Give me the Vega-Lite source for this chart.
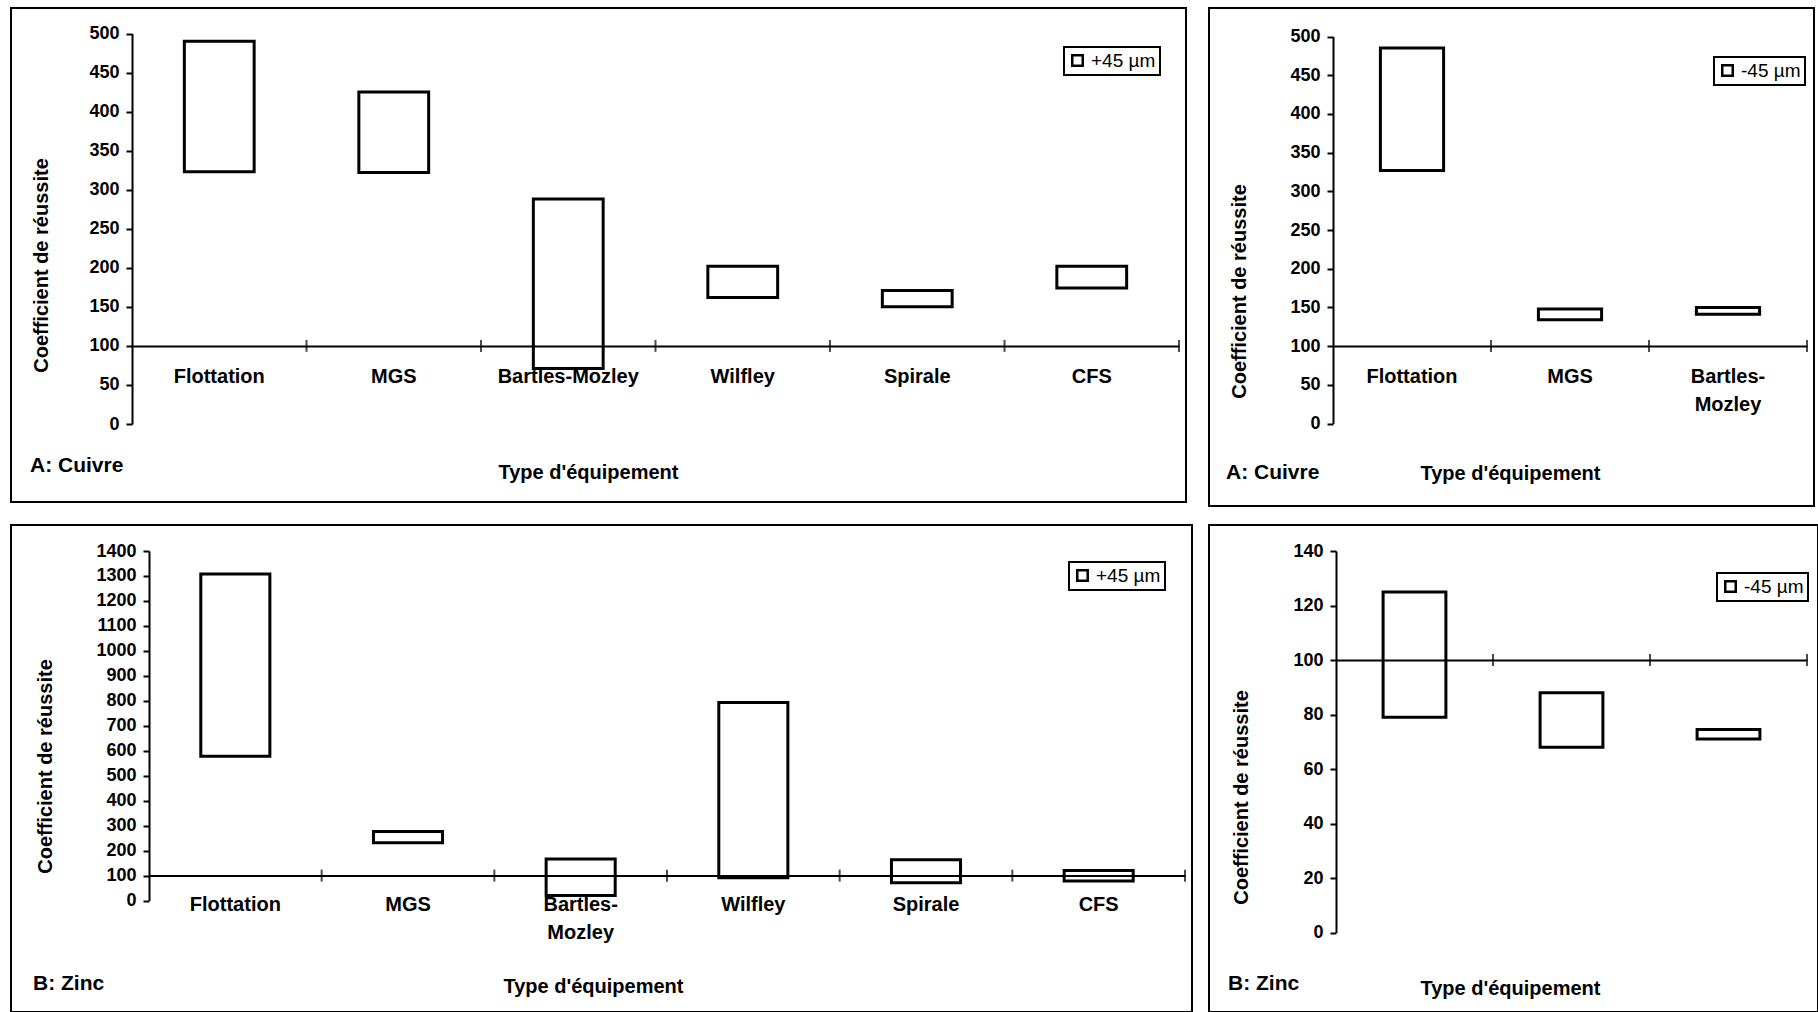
{
  "$schema": "https://vega.github.io/schema/vega-lite/v6.json",
  "padding": {"left": 10, "top": 7, "right": 0, "bottom": 0},
  "background": "white",
  "config": {
    "font": "Liberation Sans",
    "view": {"stroke": "black", "strokeWidth": 2},
    "axis": {
      "labelFont": "Liberation Sans", "labelFontSize": 20, "labelFontWeight": "bold", "labelColor": "black",
      "titleFont": "Liberation Sans", "titleFontSize": 20, "titleFontWeight": "bold", "titleColor": "black",
      "domainColor": "black", "domainWidth": 2, "tickColor": "black", "tickWidth": 2, "grid": false
    },
    "axisY": {"labelFontSize": 18, "labelOverlap": false, "format": "d", "labelPadding": 7},
    "legend": {"strokeWidth": 2},
    "title": {"font": "Liberation Sans", "fontSize": 21, "fontWeight": "bold", "color": "black"}
  },
  "datasets": {
    "a45p": [
      {"Equipement": "Flottation", "bas": 323, "haut": 490},
      {"Equipement": "MGS", "bas": 322, "haut": 425},
      {"Equipement": "Bartles-Mozley", "bas": 71, "haut": 288},
      {"Equipement": "Wilfley", "bas": 162, "haut": 202},
      {"Equipement": "Spirale", "bas": 150, "haut": 171},
      {"Equipement": "CFS", "bas": 174, "haut": 202}
    ],
    "a45m": [
      {"Equipement": "Flottation", "bas": 327, "haut": 485},
      {"Equipement": "MGS", "bas": 134, "haut": 148},
      {"Equipement": "Bartles-Mozley", "bas": 141, "haut": 150}
    ],
    "b45p": [
      {"Equipement": "Flottation", "bas": 578, "haut": 1308},
      {"Equipement": "MGS", "bas": 232, "haut": 277},
      {"Equipement": "Bartles-Mozley", "bas": 20, "haut": 167},
      {"Equipement": "Wilfley", "bas": 92, "haut": 793},
      {"Equipement": "Spirale", "bas": 71, "haut": 164},
      {"Equipement": "CFS", "bas": 78, "haut": 121}
    ],
    "b45m": [
      {"Equipement": "Flottation", "bas": 79, "haut": 125},
      {"Equipement": "MGS", "bas": 68, "haut": 88},
      {"Equipement": "Bartles-Mozley", "bas": 71, "haut": 74.5}
    ]
  },
  "resolve": {"scale": {"stroke": "independent"}, "legend": {"stroke": "independent"}},
  "spacing": 17,
  "vconcat": [
    {
      "spacing": 21,
      "resolve": {"scale": {"stroke": "independent"}, "legend": {"stroke": "independent"}},
      "hconcat": [
        {
          "width": 1175, "height": 494,
          "title": {"text": "A:  Cuivre", "orient": "bottom", "anchor": "start", "frame": "group", "offset": -36, "dx": 19, "baseline": "middle"},
          "data": {"name": "a45p"},
          "layer": [
            {
              "mark": {"type": "bar", "fill": "white", "strokeWidth": 3, "width": {"band": 0.4}},
              "encoding": {
                "x": {"field": "Equipement", "type": "nominal", "sort": null,
                  "scale": {"range": [121, 1168], "paddingInner": 0, "paddingOuter": 0},
                  "axis": {"orient": "bottom", "offset": -156, "ticks": false, "tickSize": 0, "labelPadding": 20, "labelBaseline": "top", "labelAngle": 0,
                    "title": "Type d'équipement", "titleX": 577, "titleY": 126, "titleBaseline": "middle", "titleAlign": "center", "zindex": 1}},
                "y": {"field": "bas", "type": "quantitative",
                  "scale": {"domain": [0, 500], "range": [416, 25.5], "nice": false, "zero": false},
                  "axis": {"values": [0, 50, 100, 150, 200, 250, 300, 350, 400, 450, 500], "offset": -121, "tickSize": 6, "labelOverlap": false,
                    "title": "Coefficient de réussite", "titleX": -91, "titleY": 257, "titleBaseline": "middle", "titleAlign": "center", "titleAngle": -90}},
                "y2": {"field": "haut"},
                "stroke": {"datum": "+45 µm", "type": "nominal", "scale": {"range": ["black"]},
                  "legend": {"orient": "none", "legendX": 1053, "legendY": 39, "title": null, "strokeColor": "black", "padding": 4,
                    "labelFontSize": 19, "labelFont": "Liberation Sans", "labelColor": "black", "labelOffset": 4,
                    "symbolType": "square", "symbolSize": 110, "symbolStrokeWidth": 2.5, "symbolStrokeColor": "black", "symbolFillColor": "white"}}
              }
            },
            {
              "mark": {"type": "tick", "orient": "vertical", "size": 12, "thickness": 2, "color": "black"},
              "encoding": {
                "x": {"field": "Equipement", "type": "nominal", "sort": null, "bandPosition": 1},
                "y": {"datum": 100, "type": "quantitative",
                  "axis": {"values": [0, 50, 100, 150, 200, 250, 300, 350, 400, 450, 500], "offset": -121, "tickSize": 6, "labelOverlap": false,
                    "title": "Coefficient de réussite", "titleX": -91, "titleY": 257, "titleBaseline": "middle", "titleAlign": "center", "titleAngle": -90}}
              }
            }
          ]
        },
        {
          "width": 605, "height": 498,
          "title": {"text": "A: Cuivre", "orient": "bottom", "anchor": "start", "frame": "group", "offset": -33, "dx": 17, "baseline": "middle"},
          "data": {"name": "a45m"},
          "layer": [
            {
              "mark": {"type": "bar", "fill": "white", "strokeWidth": 3, "width": {"band": 0.4}},
              "encoding": {
                "x": {"field": "Equipement", "type": "nominal", "sort": null,
                  "scale": {"range": [124, 598], "paddingInner": 0, "paddingOuter": 0},
                  "axis": {"orient": "bottom", "offset": -160, "ticks": false, "tickSize": 0, "labelPadding": 20, "labelBaseline": "top", "labelAngle": 0,
                    "labelExpr": "datum.label == 'Bartles-Mozley' ? ['Bartles-', 'Mozley'] : datum.label", "labelLineHeight": 28,
                    "title": "Type d'équipement", "titleX": 301, "titleY": 127, "titleBaseline": "middle", "titleAlign": "center", "zindex": 1}},
                "y": {"field": "bas", "type": "quantitative",
                  "scale": {"domain": [0, 500], "range": [415.5, 28.5], "nice": false, "zero": false},
                  "axis": {"values": [0, 50, 100, 150, 200, 250, 300, 350, 400, 450, 500], "offset": -124, "tickSize": 6, "labelOverlap": false,
                    "title": "Coefficient de réussite", "titleX": -94, "titleY": 283, "titleBaseline": "middle", "titleAlign": "center", "titleAngle": -90}},
                "y2": {"field": "haut"},
                "stroke": {"datum": "-45 µm", "type": "nominal", "scale": {"range": ["black"]},
                  "legend": {"orient": "none", "legendX": 505, "legendY": 49, "title": null, "strokeColor": "black", "padding": 4,
                    "labelFontSize": 19, "labelFont": "Liberation Sans", "labelColor": "black", "labelOffset": 4,
                    "symbolType": "square", "symbolSize": 110, "symbolStrokeWidth": 2.5, "symbolStrokeColor": "black", "symbolFillColor": "white"}}
              }
            },
            {
              "mark": {"type": "tick", "orient": "vertical", "size": 12, "thickness": 2, "color": "black"},
              "encoding": {
                "x": {"field": "Equipement", "type": "nominal", "sort": null, "bandPosition": 1},
                "y": {"datum": 100, "type": "quantitative",
                  "axis": {"values": [0, 50, 100, 150, 200, 250, 300, 350, 400, 450, 500], "offset": -124, "tickSize": 6, "labelOverlap": false,
                    "title": "Coefficient de réussite", "titleX": -94, "titleY": 283, "titleBaseline": "middle", "titleAlign": "center", "titleAngle": -90}}
              }
            }
          ]
        }
      ]
    },
    {
      "spacing": 15,
      "resolve": {"scale": {"stroke": "independent"}, "legend": {"stroke": "independent"}},
      "hconcat": [
        {
          "width": 1181, "height": 487,
          "title": {"text": "B: Zinc", "orient": "bottom", "anchor": "start", "frame": "group", "offset": -28, "dx": 22, "baseline": "middle"},
          "data": {"name": "b45p"},
          "layer": [
            {
              "mark": {"type": "bar", "fill": "white", "strokeWidth": 3, "width": {"band": 0.4}},
              "encoding": {
                "x": {"field": "Equipement", "type": "nominal", "sort": null,
                  "scale": {"range": [138, 1174], "paddingInner": 0, "paddingOuter": 0},
                  "axis": {"orient": "bottom", "offset": -136.4, "ticks": false, "tickSize": 0, "labelPadding": 19, "labelBaseline": "top", "labelAngle": 0,
                    "labelExpr": "datum.label == 'Bartles-Mozley' ? ['Bartles-', 'Mozley'] : datum.label", "labelLineHeight": 28,
                    "title": "Type d'équipement", "titleX": 582, "titleY": 111, "titleBaseline": "middle", "titleAlign": "center", "zindex": 1}},
                "y": {"field": "bas", "type": "quantitative",
                  "scale": {"domain": [0, 1400], "range": [375.6, 26], "nice": false, "zero": false},
                  "axis": {"values": [0, 100, 200, 300, 400, 500, 600, 700, 800, 900, 1000, 1100, 1200, 1300, 1400], "offset": -138, "tickSize": 6, "labelOverlap": false, "labelFontSize": 18,
                    "title": "Coefficient de réussite", "titleX": -104, "titleY": 241, "titleBaseline": "middle", "titleAlign": "center", "titleAngle": -90}},
                "y2": {"field": "haut"},
                "stroke": {"datum": "+45 µm", "type": "nominal", "scale": {"range": ["black"]},
                  "legend": {"orient": "none", "legendX": 1058, "legendY": 37, "title": null, "strokeColor": "black", "padding": 4,
                    "labelFontSize": 19, "labelFont": "Liberation Sans", "labelColor": "black", "labelOffset": 4,
                    "symbolType": "square", "symbolSize": 110, "symbolStrokeWidth": 2.5, "symbolStrokeColor": "black", "symbolFillColor": "white"}}
              }
            },
            {
              "mark": {"type": "tick", "orient": "vertical", "size": 12, "thickness": 2, "color": "black"},
              "encoding": {
                "x": {"field": "Equipement", "type": "nominal", "sort": null, "bandPosition": 1},
                "y": {"datum": 100, "type": "quantitative",
                  "axis": {"values": [0, 100, 200, 300, 400, 500, 600, 700, 800, 900, 1000, 1100, 1200, 1300, 1400], "offset": -138, "tickSize": 6, "labelOverlap": false, "labelFontSize": 18,
                    "title": "Coefficient de réussite", "titleX": -104, "titleY": 241, "titleBaseline": "middle", "titleAlign": "center", "titleAngle": -90}}
              }
            }
          ]
        },
        {
          "width": 609, "height": 487,
          "title": {"text": "B: Zinc", "orient": "bottom", "anchor": "start", "frame": "group", "offset": -28, "dx": 19, "baseline": "middle"},
          "data": {"name": "b45m"},
          "layer": [
            {
              "mark": {"type": "bar", "fill": "white", "strokeWidth": 3, "width": {"band": 0.4}},
              "encoding": {
                "x": {"field": "Equipement", "type": "nominal", "sort": null,
                  "scale": {"range": [127, 598], "paddingInner": 0, "paddingOuter": 0},
                  "axis": {"orient": "bottom", "offset": -352, "ticks": false, "tickSize": 0, "labels": false,
                    "title": "Type d'équipement", "titleX": 301, "titleY": 328, "titleBaseline": "middle", "titleAlign": "center", "zindex": 1}},
                "y": {"field": "bas", "type": "quantitative",
                  "scale": {"domain": [0, 140], "range": [407.5, 26], "nice": false, "zero": false},
                  "axis": {"values": [0, 20, 40, 60, 80, 100, 120, 140], "offset": -127, "tickSize": 6, "labelOverlap": false,
                    "title": "Coefficient de réussite", "titleX": -95, "titleY": 272, "titleBaseline": "middle", "titleAlign": "center", "titleAngle": -90}},
                "y2": {"field": "haut"},
                "stroke": {"datum": "-45 µm", "type": "nominal", "scale": {"range": ["black"]},
                  "legend": {"orient": "none", "legendX": 508, "legendY": 48, "title": null, "strokeColor": "black", "padding": 4,
                    "labelFontSize": 19, "labelFont": "Liberation Sans", "labelColor": "black", "labelOffset": 4,
                    "symbolType": "square", "symbolSize": 110, "symbolStrokeWidth": 2.5, "symbolStrokeColor": "black", "symbolFillColor": "white"}}
              }
            },
            {
              "mark": {"type": "tick", "orient": "vertical", "size": 12, "thickness": 2, "color": "black"},
              "encoding": {
                "x": {"field": "Equipement", "type": "nominal", "sort": null, "bandPosition": 1},
                "y": {"datum": 100, "type": "quantitative",
                  "axis": {"values": [0, 20, 40, 60, 80, 100, 120, 140], "offset": -127, "tickSize": 6, "labelOverlap": false,
                    "title": "Coefficient de réussite", "titleX": -95, "titleY": 272, "titleBaseline": "middle", "titleAlign": "center", "titleAngle": -90}}
              }
            }
          ]
        }
      ]
    }
  ]
}
